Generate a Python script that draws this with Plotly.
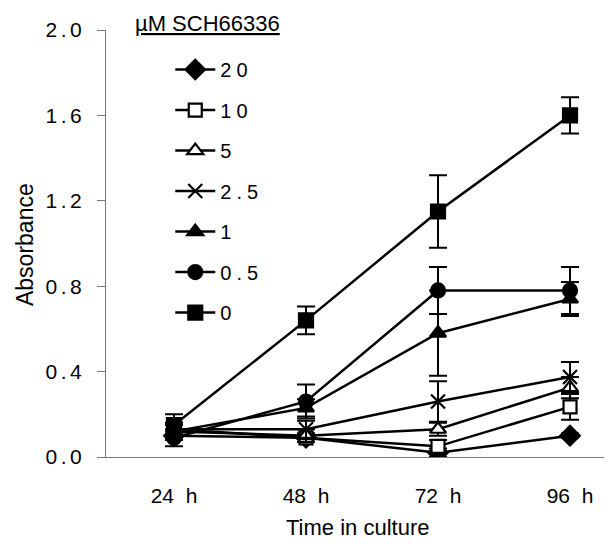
import plotly.graph_objects as go

# Data
times = ["24  h", "48  h", "72  h", "96  h"]
doses = ["20", "10", "5", "2.5", "1", "0.5", "0"]
vals_20 = [0.10, 0.09, 0.02, 0.10]
vals_10 = [0.13, 0.09, 0.05, 0.235]
vals_5 = [0.12, 0.10, 0.13, 0.325]
vals_2_5 = [0.13, 0.13, 0.26, 0.375]
vals_1 = [0.12, 0.23, 0.58, 0.74]
vals_0_5 = [0.09, 0.26, 0.78, 0.78]
vals_0 = [0.15, 0.64, 1.15, 1.60]
err_20 = [0.02, 0.02, 0.02, 0.01]
err_10 = [0.03, 0.02, 0.03, 0.06]
err_5 = [0.03, 0.03, 0.03, 0.05]
err_2_5 = [0.03, 0.04, 0.095, 0.07]
err_1 = [0.03, 0.04, 0.20, 0.08]
err_0_5 = [0.04, 0.08, 0.11, 0.11]
err_0 = [0.05, 0.065, 0.17, 0.085]
y_ticks = [0.0, 0.4, 0.8, 1.2, 1.6, 2.0]


def spaced(s, sep="\u2006"):
    return sep.join(list(s))


series = [
    (doses[0], vals_20, err_20, "diamond", "black", 15),
    (doses[1], vals_10, err_10, "square", "white", 13),
    (doses[2], vals_5, err_5, "triangle-up", "white", 14),
    (doses[3], vals_2_5, err_2_5, "x-thin", "black", 14),
    (doses[4], vals_1, err_1, "triangle-up", "black", 14),
    (doses[5], vals_0_5, err_0_5, "circle", "black", 14),
    (doses[6], vals_0, err_0, "square", "black", 14),
]

fig = go.Figure()
xs = list(range(len(times)))
for i, (name, v, e, sym, fill, size) in enumerate(series):
    fig.add_trace(go.Scatter(
        x=xs, y=v, name=spaced(name, "\u2005"), mode="lines+markers",
        legendgroup=f"g{i}",
        line=dict(color="black", width=2.5),
        marker=dict(symbol=sym, size=size, color=fill,
                    line=dict(color="black", width=2.2)),
        error_y=dict(type="data", array=e, visible=True, color="black",
                     thickness=2, width=9),
    ))

font_family = "Liberation Sans, Arial, sans-serif"
fig.update_layout(
    width=604, height=536,
    paper_bgcolor="white", plot_bgcolor="white",
    margin=dict(l=98, r=0, t=22, b=87),
    font=dict(family=font_family, size=20, color="black"),
    showlegend=True,
    legend=dict(x=0.127, y=0.953, xanchor="left", yanchor="top",
                bgcolor="rgba(0,0,0,0)", font=dict(size=20),
                tracegroupgap=11.5, itemwidth=40),
    xaxis=dict(
        tickvals=xs, ticktext=times, range=[-0.515, 3.318],
        showline=True, linecolor="#777", linewidth=1,
        ticks="outside", ticklen=20, tickcolor="rgba(0,0,0,0)",
        showgrid=False, zeroline=False,
        tickfont=dict(size=21),
    ),
    yaxis=dict(
        range=[0, 2.0], tickvals=y_ticks,
        ticktext=[spaced(f"{t:.1f}") for t in y_ticks],
        showline=True, linecolor="#777", linewidth=1,
        ticks="outside", ticklen=8, tickcolor="#777",
        showgrid=False, zeroline=False,
        ticklabelstandoff=11,
        tickfont=dict(size=21),
    ),
)
fig.add_annotation(
    text="<u>\u00b5M SCH66336</u>", xref="paper", yref="paper",
    x=0.053, y=1.015, xanchor="left", yanchor="middle",
    showarrow=False, font=dict(size=22),
)
fig.add_annotation(
    text="Absorbance", xref="paper", yref="paper",
    x=-0.160, y=0.4965, xanchor="center", yanchor="middle",
    textangle=-90, showarrow=False, font=dict(size=23),
)
fig.add_annotation(
    text="Time in culture", xref="paper", yref="paper",
    x=0.497, y=-0.166, xanchor="center", yanchor="middle",
    showarrow=False, font=dict(size=22),
)
fig.write_html("out.html")
